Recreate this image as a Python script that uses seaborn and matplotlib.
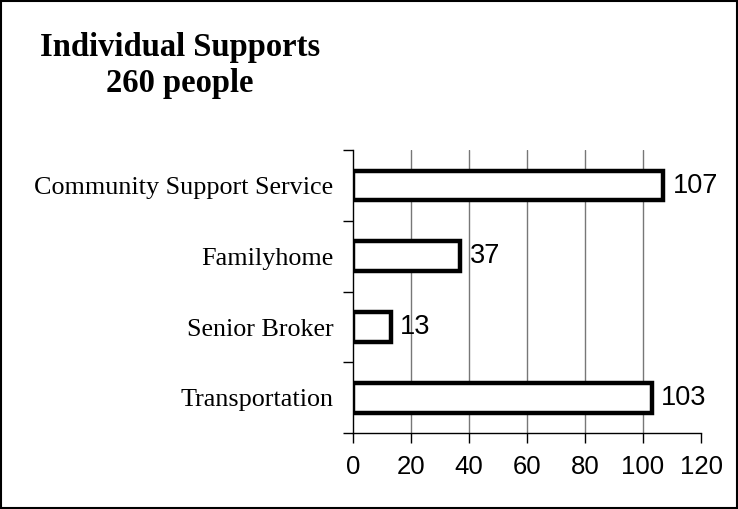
import matplotlib
matplotlib.use("Agg")
import matplotlib.pyplot as plt
from matplotlib.patches import Rectangle
import seaborn as sns
import pandas as pd

categories = ["Community Support Service", "Familyhome", "Senior Broker", "Transportation"]
counts = [107, 37, 13, 103]
x_ticks = [0, 20, 40, 60, 80, 100, 120]
title_lines = ["Individual Supports", "260 people"]

df = pd.DataFrame({"category": categories, "count": counts})

sns.set_style("white")
plt.rcParams["text.color"] = "black"
plt.rcParams["xtick.color"] = "black"
plt.rcParams["ytick.color"] = "black"

fig = plt.figure(figsize=(7.38, 5.09), dpi=100)
ax = fig.add_axes([0.478, 0.149, 0.472, 0.556])

sns.barplot(data=df, x="count", y="category", orient="h", ax=ax,
            color="white", edgecolor="black", linewidth=3.2, width=0.42,
            saturation=1)

ax.set_xlim(0, 120)
ax.set_ylim(len(categories) - 0.5, -0.5)
ax.set_xticks(x_ticks)
ax.set_xticklabels([str(t) for t in x_ticks], family="Liberation Sans", fontsize=18.5,
                   color="black")
ax.set_yticks([i - 0.5 for i in range(len(categories) + 1)], minor=False)
ax.set_yticklabels([])
ax.set_yticks(range(len(categories)), minor=True)
ax.set_yticklabels(categories, minor=True, family="Liberation Serif", fontsize=18.8,
                   color="black")
ax.tick_params(axis="y", which="minor", length=0, pad=14)
ax.tick_params(axis="y", which="major", length=7, width=1, color="black", direction="out", left=True)
ax.tick_params(axis="x", length=7, width=1, color="black", direction="out", bottom=True, pad=9)
ax.set_xlabel("")
ax.set_ylabel("")

for x in x_ticks[1:-1]:
    ax.axvline(x, color="#777777", linewidth=1, zorder=0)

for s in ["top", "right"]:
    ax.spines[s].set_visible(False)
for s in ["left", "bottom"]:
    ax.spines[s].set_color("black")
    ax.spines[s].set_linewidth(1)

for i, v in enumerate(counts):
    ax.text(v + 3.2, i, str(v), va="center", ha="left", color="black",
            family="Liberation Sans", fontsize=19.5)

fig.text(0.244, 0.907, title_lines[0], ha="center", va="center", color="black",
         family="Liberation Serif", fontweight="bold", fontsize=23.5)
fig.text(0.244, 0.836, title_lines[1], ha="center", va="center", color="black",
         family="Liberation Serif", fontweight="bold", fontsize=23.5)

fig.patches.append(Rectangle((0.001, 0.001), 0.997, 0.997, transform=fig.transFigure,
                             fill=False, edgecolor="black", linewidth=1.5))

fig.savefig("out.png", dpi=100)
